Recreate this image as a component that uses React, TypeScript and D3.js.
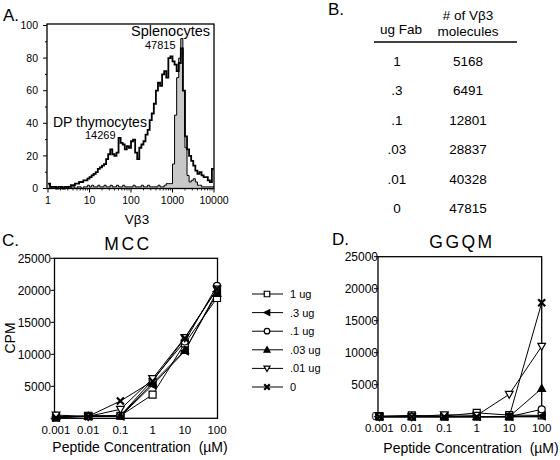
import React from "react";
import * as d3 from "d3";

// ---------- Panel A: histogram data (percent of max, bins of 0.05 log10 units from 1 to 10000)
const histLogStep = 0.05;
const dpThymocytes = [
  3, 1, 1, 1, 0, 1, 1, 0, 1, 1,
  1, 2, 2, 3, 3, 4, 4, 5, 5, 6,
  7, 8, 9, 10, 12, 13, 14, 15, 18, 21,
  24, 21, 20, 22, 31, 28, 27, 24, 26, 25,
  29, 30, 22, 18, 25, 27, 29, 33, 36, 42,
  46, 52, 60, 65, 63, 70, 72, 68, 80, 81,
  78, 76, 72, 77, 86, 60, 32, 24, 20, 17,
  14, 11, 9, 10, 8, 7, 7, 5, 4, 12,
];
const splenocytes = [
  3, 1, 0, 1, 0, 0, 1, 0, 0, 1,
  0, 1, 1, 0, 1, 1, 0, 1, 1, 2,
  1, 2, 1, 1, 2, 1, 1, 2, 1, 1,
  2, 1, 1, 2, 1, 1, 2, 1, 1, 1,
  1, 2, 1, 1, 1, 2, 1, 1, 2, 1,
  1, 1, 1, 2, 1, 1, 2, 3, 3, 3,
  15, 45, 68, 80, 92, 60, 25, 8, 4, 5,
  6, 4, 2, 2, 1, 1, 1, 1, 1, 1,
];
const histXTicks = [1, 10, 100, 1000, 10000];
const histYTicks = [0, 20, 40, 60, 80, 100];

// ---------- Panel B: table
const fabAmounts = ["1", ".3", ".1", ".03", ".01", "0"];
const vb3Molecules = ["5168", "6491", "12801", "28837", "40328", "47815"];

// ---------- Panels C & D: proliferation
const concentrations = [0.001, 0.01, 0.1, 1, 10, 100];
const concLabels = ["0.001", "0.01", "0.1", "1", "10", "100"];
const fabDoses = ["1 ug", ".3 ug", ".1 ug", ".03 ug", ".01 ug", "0"];
const markerKinds = ["square", "leftTri", "circle", "triUp", "triDown", "cross"];

const mcc1ug = [100, 400, 400, 3700, 11700, 18800];
const mcc03ug = [200, 300, 300, 5200, 10500, 19800];
const mcc01ug = [200, 300, 400, 6000, 12000, 20700];
const mcc003ug = [300, 300, 400, 5500, 10600, 19500];
const mcc001ug = [500, 300, 1400, 6200, 12600, 20200];
const mcc0 = [100, 300, 2700, 5800, 12500, 20200];

const ggqm1ug = [100, 200, 100, 600, 250, 200];
const ggqm03ug = [0, 0, 0, 0, 0, 100];
const ggqm01ug = [0, 0, 0, 0, 0, 1150];
const ggqm003ug = [0, 0, 0, 0, 0, 4400];
const ggqm001ug = [0, 0, 300, 200, 3500, 11000];
const ggqm0 = [0, 0, 0, 0, 0, 17800];

const cpmTicks = [0, 5000, 10000, 15000, 20000, 25000];

const FONT = "'Liberation Sans', Arial, Helvetica, sans-serif";

function markerPath(kind: string, s: number): string {
  const h = s / 2;
  switch (kind) {
    case "square":
      return `M${-h},${-h}H${h}V${h}H${-h}Z`;
    case "leftTri":
      return `M${-h * 1.1},0L${h},${-h * 1.05}L${h},${h * 1.05}Z`;
    case "triUp":
      return `M0,${-h * 1.15}L${h * 1.1},${h * 0.85}L${-h * 1.1},${h * 0.85}Z`;
    case "triDown":
      return `M0,${h * 1.15}L${h * 1.1},${-h * 0.85}L${-h * 1.1},${-h * 0.85}Z`;
    case "cross":
      return `M${-h},${-h}L${h},${h}M${h},${-h}L${-h},${h}`;
    default:
      return "";
  }
}

function Marker({ kind, x, y, s }: { kind: string; x: number; y: number; s: number }) {
  if (kind === "circle") {
    return <circle cx={x} cy={y} r={s / 2} fill="white" stroke="black" strokeWidth={1.2} />;
  }
  const filled = kind === "leftTri" || kind === "triUp";
  if (kind === "cross") {
    return (
      <path
        d={markerPath(kind, s)}
        transform={`translate(${x},${y})`}
        fill="none"
        stroke="black"
        strokeWidth={2.2}
      />
    );
  }
  return (
    <path
      d={markerPath(kind, s)}
      transform={`translate(${x},${y})`}
      fill={filled ? "black" : "white"}
      stroke="black"
      strokeWidth={1.2}
    />
  );
}

function HistogramPanel() {
  const x = d3.scaleLog().domain([1, 10000]).range([48, 214]);
  const y = d3.scaleLinear().domain([0, 100]).range([188.5, 25.5]);
  const toPts = (arr: number[]) => {
    const pts = arr.map((v, i) => ({ x: Math.pow(10, i * histLogStep), v }));
    pts.push({ x: 10000, v: arr[arr.length - 1] });
    return pts;
  };
  const dp = toPts(dpThymocytes);
  const sp = toPts(splenocytes);
  const line = d3
    .line<{ x: number; v: number }>()
    .x((d) => x(d.x))
    .y((d) => y(d.v))
    .curve(d3.curveStepAfter);
  const area = d3
    .area<{ x: number; v: number }>()
    .x((d) => x(d.x))
    .y0(y(0))
    .y1((d) => y(d.v))
    .curve(d3.curveStepAfter);
  const minor: number[] = [];
  for (let dec = 1; dec < 10000; dec *= 10) for (let k = 2; k <= 9; k++) minor.push(dec * k);
  const yMinor = d3.range(10, 100, 10).filter((v) => v % 20 !== 0);
  return (
    <g>
      <text x={3} y={21} fontSize={17} fontFamily={FONT}>A.</text>
      <path d={area(sp) || ""} fill="#c8c8c8" stroke="none" />
      <path d={line(sp) || ""} fill="none" stroke="black" strokeWidth={1} />
      <path d={line(dp) || ""} fill="none" stroke="black" strokeWidth={1.8} />
      <rect x={47} y={24} width={167} height={164.5} fill="none" stroke="black" strokeWidth={1.3} />
      {histYTicks.map((t) => (
        <g key={t}>
          <line x1={43} x2={47} y1={y(t)} y2={y(t)} stroke="black" strokeWidth={1} />
          <text x={38} y={y(t) + 3.7} fontSize={10.5} textAnchor="end" fontFamily={FONT}>{t}</text>
        </g>
      ))}
      {yMinor.map((t) => (
        <line key={t} x1={45} x2={47} y1={y(t)} y2={y(t)} stroke="black" strokeWidth={1} />
      ))}
      {histXTicks.map((t) => (
        <g key={t}>
          <line x1={x(t)} x2={x(t)} y1={188.5} y2={192.5} stroke="black" strokeWidth={1} />
          <text x={x(t)} y={204} fontSize={10.5} textAnchor="middle" fontFamily={FONT}>{t}</text>
        </g>
      ))}
      {minor.map((t) => (
        <line key={t} x1={x(t)} x2={x(t)} y1={188.5} y2={190.5} stroke="black" strokeWidth={0.8} />
      ))}
      <text x={137} y={224} fontSize={13.5} textAnchor="middle" fontFamily={FONT}>Vβ3</text>
      <text x={131} y={36} fontSize={14.5} fontFamily={FONT}>Splenocytes</text>
      <text x={145} y={49} fontSize={11} fontFamily={FONT}>47815</text>
      <text x={53} y={127} fontSize={14} fontFamily={FONT}>DP thymocytes</text>
      <text x={85} y={139} fontSize={11} fontFamily={FONT}>14269</text>
    </g>
  );
}

function TablePanel() {
  const rowY = d3.scaleLinear().domain([0, fabAmounts.length - 1]).range([66, 213]);
  return (
    <g fontFamily={FONT}>
      <text x={328} y={15} fontSize={17}>B.</text>
      <text x={401} y={34} fontSize={13.5} textAnchor="middle">ug Fab</text>
      <text x={468} y={20} fontSize={13.5} textAnchor="middle"># of Vβ3</text>
      <text x={468} y={36} fontSize={13.5} textAnchor="middle">molecules</text>
      <line x1={374} x2={517} y1={42} y2={42} stroke="black" strokeWidth={1.3} />
      {fabAmounts.map((f, i) => (
        <g key={i}>
          <text x={397} y={rowY(i)} fontSize={13.5} textAnchor="middle">{f}</text>
          <text x={468} y={rowY(i)} fontSize={13.5} textAnchor="middle">{vb3Molecules[i]}</text>
        </g>
      ))}
    </g>
  );
}

type PanelProps = {
  letter: string;
  letterX: number;
  letterY: number;
  title: string;
  titleX: number;
  titleY: number;
  left: number;
  right: number;
  top: number;
  bottom: number;
  x0: number;
  x1: number;
  series: number[][];
  showZero: boolean;
  yLabelX: number;
  xLabelY: number;
  axisTitleX: number;
  axisTitleY: number;
  showCPM: boolean;
};

function CpmPanel(p: PanelProps) {
  const x = d3.scaleLog().domain([0.001, 100]).range([p.x0, p.x1]);
  const y = d3.scaleLinear().domain([0, 25000]).range([p.bottom, p.top]);
  const line = d3
    .line<number>()
    .x((_, i) => x(concentrations[i]))
    .y((d) => y(d));
  return (
    <g fontFamily={FONT}>
      <text x={p.letterX} y={p.letterY} fontSize={17}>{p.letter}</text>
      <text x={p.titleX} y={p.titleY} fontSize={17.5} letterSpacing={2.5} textAnchor="middle">{p.title}</text>
      <rect x={p.left} y={p.top} width={p.right - p.left} height={p.bottom - p.top} fill="none" stroke="black" strokeWidth={1.3} />
      {cpmTicks.map((t) => (
        <g key={t}>
          <line x1={p.left - 4} x2={p.left} y1={y(t)} y2={y(t)} stroke="black" strokeWidth={1} />
          {(t !== 0 || p.showZero) && (
            <text x={p.yLabelX} y={y(t) + (t === 0 ? 2.8 : 4.2)} fontSize={t === 0 ? 11.5 : 12} textAnchor="end">{t}</text>
          )}
        </g>
      ))}
      {concentrations.map((c, i) => (
        <text key={c} x={x(c)} y={p.xLabelY} fontSize={11.5} textAnchor="middle">{concLabels[i]}</text>
      ))}
      {p.series.map((s, k) => (
        <path key={k} d={line(s) || ""} fill="none" stroke="black" strokeWidth={1} />
      ))}
      {p.series.map((s, k) =>
        s.map((v, i) => (
          <Marker key={`${k}-${i}`} kind={markerKinds[k]} x={x(concentrations[i])} y={y(v)} s={7} />
        ))
      )}
      <text x={p.axisTitleX} y={p.axisTitleY} fontSize={14} textAnchor="middle" xmlSpace="preserve" style={{ whiteSpace: "pre" }}>
        {"Peptide Concentration  (µM)"}
      </text>
      {p.showCPM && (
        <text transform={`translate(15,338) rotate(-90)`} fontSize={14} textAnchor="middle">CPM</text>
      )}
    </g>
  );
}

function Legend() {
  const rowY = d3.scaleLinear().domain([0, fabDoses.length - 1]).range([294, 387]);
  return (
    <g fontFamily={FONT}>
      {fabDoses.map((d, i) => (
        <g key={d}>
          <line x1={252} x2={283} y1={rowY(i)} y2={rowY(i)} stroke="black" strokeWidth={1} />
          <Marker kind={markerKinds[i]} x={267} y={rowY(i)} s={5.5} />
          <text x={290} y={rowY(i) + 4} fontSize={11}>{d}</text>
        </g>
      ))}
    </g>
  );
}

export default function App() {
  return (
    <svg
      width={560}
      height={460}
      viewBox="0 0 560 460"
      style={{ position: "absolute", left: 0, top: 0, background: "white" }}
    >
      <rect x={0} y={0} width={560} height={460} fill="white" />
      <HistogramPanel />
      <TablePanel />
      <CpmPanel
        letter="C."
        letterX={2}
        letterY={246}
        title="MCC"
        titleX={128}
        titleY={250}
        left={54.5}
        right={217.5}
        top={258.3}
        bottom={418.3}
        x0={56}
        x1={217}
        series={[mcc1ug, mcc03ug, mcc01ug, mcc003ug, mcc001ug, mcc0]}
        showZero={false}
        yLabelX={51}
        xLabelY={434}
        axisTitleX={140}
        axisTitleY={452}
        showCPM={true}
      />
      <Legend />
      <CpmPanel
        letter="D."
        letterX={332}
        letterY={245}
        title="GGQM"
        titleX={462}
        titleY={248}
        left={378}
        right={541.7}
        top={256.7}
        bottom={416.7}
        x0={379.3}
        x1={541.7}
        series={[ggqm1ug, ggqm03ug, ggqm01ug, ggqm003ug, ggqm001ug, ggqm0]}
        showZero={true}
        yLabelX={378}
        xLabelY={432}
        axisTitleX={471}
        axisTitleY={453}
        showCPM={false}
      />
    </svg>
  );
}
